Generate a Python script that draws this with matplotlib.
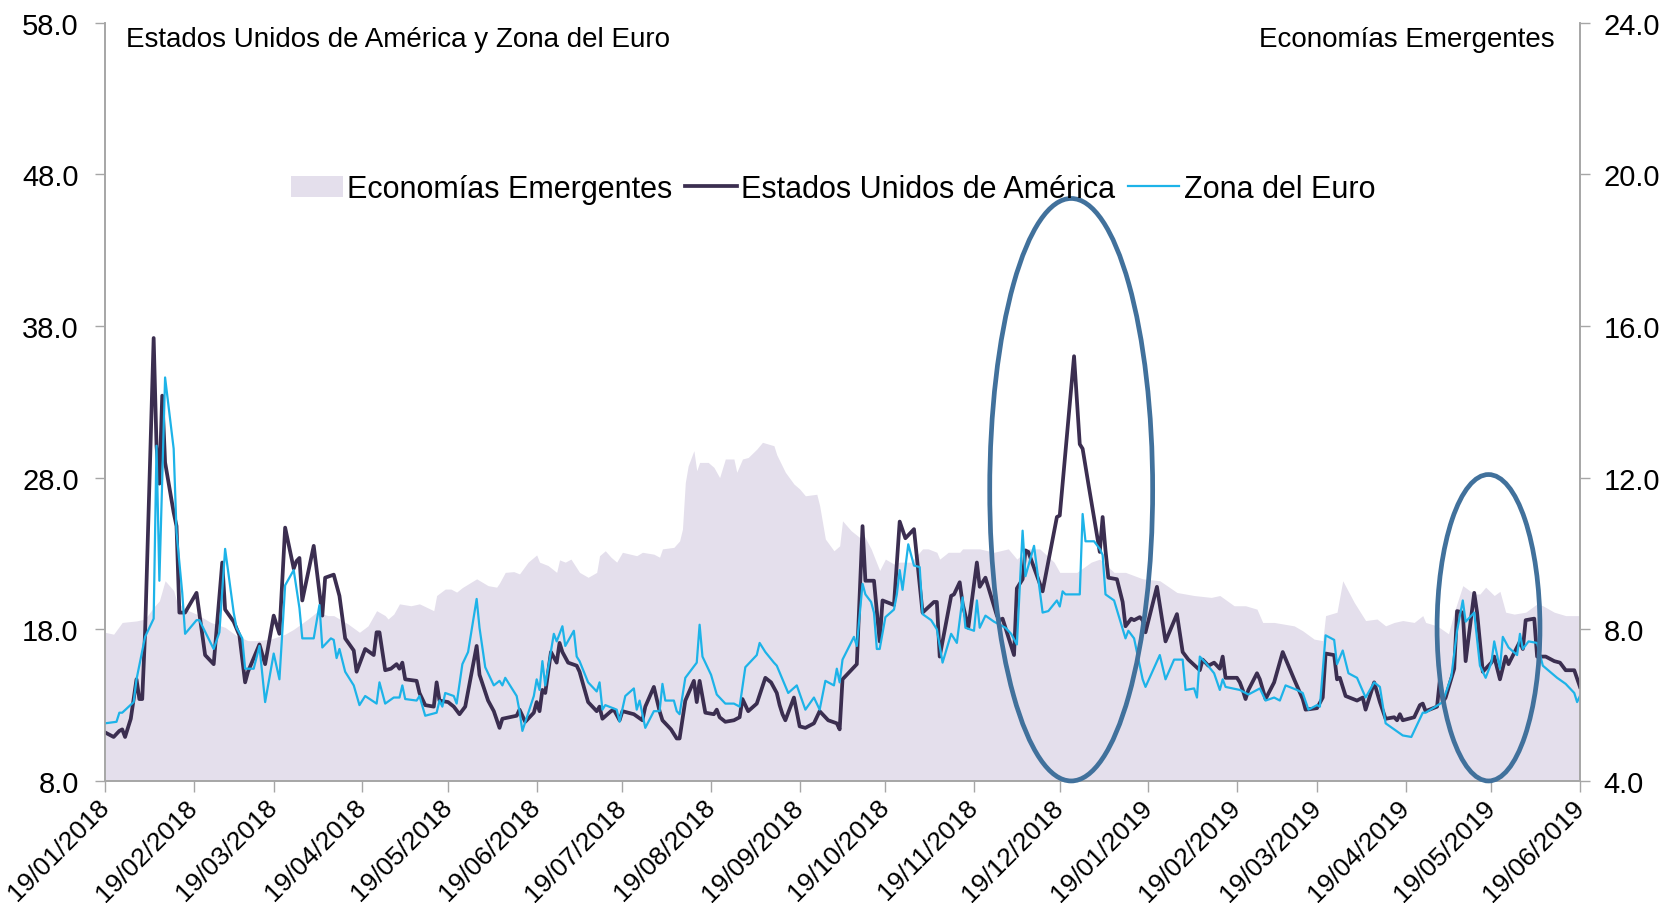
import numpy as np
import pandas as pd
import matplotlib
matplotlib.use('Agg')
import matplotlib.pyplot as plt
import matplotlib.dates as mdates
from matplotlib.patches import Ellipse

plt.rcParams['font.family'] = ['Liberation Sans', 'DejaVu Sans']

start = pd.Timestamp('2018-01-19')

# (days since 19/01/2018, value)
usa = [(0, 11.2), (3, 10.9), (5, 11.3), (6, 11.4), (7, 10.9), (9, 12.1), (11, 14.7), (12, 13.4),
       (13, 13.4), (14, 17.8), (17, 37.2), (18, 30.1), (19, 27.6), (20, 33.4), (21, 29.0), (24, 25.7),
       (25, 24.8), (26, 19.1), (28, 19.1), (32, 20.4), (35, 16.3), (38, 15.7), (41, 22.4), (42, 19.3),
       (45, 18.5), (47, 17.6), (49, 14.5), (50, 15.2), (54, 17.0), (56, 15.7), (59, 18.9), (61, 17.7),
       (63, 24.7), (66, 22.0), (67, 22.5), (68, 22.7), (69, 19.9), (73, 23.5), (76, 18.9), (77, 21.4),
       (80, 21.6), (82, 20.2), (84, 17.4), (87, 16.6), (88, 15.2), (91, 16.7), (94, 16.3), (95, 17.8),
       (96, 17.8), (98, 15.3), (100, 15.4), (102, 15.7), (103, 15.4), (104, 15.8), (105, 14.7),
       (109, 14.6), (110, 13.8), (112, 13.0), (115, 12.9), (116, 14.5), (117, 13.3), (120, 13.2),
       (122, 12.9), (124, 12.4), (126, 12.9), (130, 16.9), (131, 15.0), (134, 13.3), (136, 12.6),
       (138, 11.5), (139, 12.1), (144, 12.3), (145, 12.7), (147, 11.9), (150, 12.5), (151, 13.2),
       (152, 12.6), (153, 14.0), (154, 13.8), (156, 16.5), (158, 15.8), (159, 17.1), (160, 16.5),
       (162, 15.8), (165, 15.6), (166, 15.2), (169, 13.2), (172, 12.6), (173, 12.9), (174, 12.1),
       (177, 12.6), (178, 12.7), (180, 12.0), (181, 12.6), (185, 12.4), (188, 12.0), (189, 12.9),
       (192, 14.2), (194, 12.6), (195, 12.0), (198, 11.4), (200, 10.8), (201, 10.8), (203, 13.3),
       (206, 14.6), (207, 13.2), (208, 14.6), (210, 12.5), (213, 12.4), (214, 12.7), (215, 12.2),
       (217, 11.9), (220, 12.0), (222, 12.2), (223, 13.4), (225, 12.6), (228, 13.1), (231, 14.8),
       (233, 14.5), (235, 13.8), (236, 13.0), (237, 12.4), (238, 12.0), (241, 13.5), (243, 11.6),
       (245, 11.5), (248, 11.8), (250, 12.6), (253, 12.0), (256, 11.8), (257, 11.4), (258, 14.7),
       (261, 15.3), (263, 15.7), (265, 24.8), (266, 21.2), (269, 21.2), (271, 17.2), (272, 19.9),
       (276, 19.6), (278, 25.1), (280, 24.0), (283, 24.6), (286, 19.1), (290, 19.8), (291, 19.8),
       (292, 16.2), (296, 20.2), (297, 20.3), (299, 21.1), (300, 19.7), (302, 18.1), (305, 22.4),
       (306, 20.8), (308, 21.4), (312, 18.9), (313, 18.6), (314, 18.7), (318, 16.3), (319, 20.7),
       (321, 21.3), (322, 23.2), (323, 23.1), (328, 20.5), (333, 25.4), (334, 25.5), (339, 36.0),
       (341, 30.2), (342, 29.9), (344, 27.6), (348, 23.1), (349, 25.4), (350, 23.2), (351, 21.4),
       (354, 21.3), (356, 19.8), (357, 18.2), (359, 18.7), (360, 18.6), (362, 18.8), (363, 18.6),
       (364, 17.8), (368, 20.8), (371, 17.2), (375, 19.0), (377, 16.5), (379, 16.0), (383, 15.3),
       (384, 16.0), (386, 15.6), (388, 15.8), (390, 15.4), (391, 16.2), (392, 14.8), (396, 14.8),
       (397, 14.5), (398, 14.0), (399, 13.4), (400, 14.0), (403, 15.1), (404, 14.7), (406, 13.4),
       (409, 14.5), (412, 16.5), (416, 14.7), (419, 13.4), (420, 12.7), (424, 12.8), (426, 13.5),
       (427, 16.4), (430, 16.3), (431, 14.7), (432, 14.8), (434, 13.6), (438, 13.3), (440, 13.5),
       (441, 12.7), (444, 14.5), (446, 13.2), (448, 12.1), (451, 12.2), (452, 12.0), (453, 12.4),
       (454, 12.0), (458, 12.2), (460, 13.0), (461, 13.1), (462, 12.6), (466, 12.9), (467, 14.7),
       (468, 13.2), (469, 13.5), (472, 15.4), (473, 19.2), (475, 19.1), (476, 15.9), (479, 20.4),
       (480, 19.1), (482, 15.2), (485, 15.8), (486, 16.2), (488, 14.7), (490, 16.2), (491, 15.7),
       (495, 17.2), (496, 16.7), (497, 18.6), (500, 18.7), (501, 16.2), (504, 16.2), (507, 15.9),
       (509, 15.8), (511, 15.3), (514, 15.3), (516, 14.2)]

euro = [(0, 11.8), (4, 11.9), (5, 12.5), (6, 12.5), (10, 13.2), (11, 14.7), (14, 17.5), (17, 18.7),
        (18, 30.1), (19, 21.2), (21, 34.6), (24, 29.9), (25, 24.4), (27, 20.4), (28, 17.7), (32, 18.6),
        (33, 18.6), (38, 16.7), (40, 17.8), (42, 23.3), (45, 19.1), (46, 18.1), (48, 17.4), (49, 15.4),
        (52, 15.4), (54, 16.9), (56, 13.2), (59, 16.4), (61, 14.7), (63, 20.9), (66, 21.9), (68, 19.4),
        (69, 17.4), (73, 17.4), (75, 19.6), (76, 16.8), (79, 17.4), (80, 17.3), (81, 16.1), (82, 16.7),
        (84, 15.2), (87, 14.3), (89, 13.0), (91, 13.6), (95, 13.1), (96, 14.5), (98, 13.1), (101, 13.5),
        (103, 13.5), (104, 14.3), (105, 13.4), (109, 13.3), (110, 13.6), (112, 12.3), (116, 12.5),
        (117, 13.3), (118, 12.9), (119, 13.8), (122, 13.6), (123, 13.1), (125, 15.7), (127, 16.5),
        (130, 20.0), (131, 18.1), (133, 15.5), (136, 14.3), (138, 14.6), (139, 14.3), (140, 14.8),
        (144, 13.6), (145, 12.6), (146, 11.3), (150, 13.6), (151, 14.7), (152, 14.0), (153, 15.9),
        (154, 14.3), (157, 17.7), (158, 17.2), (160, 18.2), (161, 16.9), (164, 17.9), (165, 16.2),
        (166, 15.9), (169, 14.5), (172, 13.9), (173, 14.5), (174, 12.7), (175, 13.0), (179, 12.7),
        (180, 11.9), (182, 13.6), (185, 14.1), (186, 12.7), (187, 13.3), (189, 11.5), (192, 12.6),
        (194, 12.6), (195, 14.4), (196, 13.3), (199, 13.3), (200, 12.6), (201, 12.4), (203, 14.8),
        (207, 15.8), (208, 18.3), (209, 16.2), (212, 15.0), (214, 13.7), (217, 13.1), (220, 13.1),
        (222, 12.9), (224, 15.5), (228, 16.3), (229, 17.1), (231, 16.5), (234, 15.8), (235, 15.6),
        (239, 13.8), (242, 14.3), (245, 12.7), (248, 13.5), (250, 12.7), (252, 14.6), (255, 14.3),
        (256, 15.4), (257, 14.5), (258, 16.0), (262, 17.5), (263, 16.9), (265, 21.0), (266, 20.3),
        (268, 19.8), (269, 19.1), (270, 16.7), (271, 16.7), (273, 18.8), (276, 19.3), (277, 20.3),
        (278, 21.9), (279, 20.6), (281, 23.6), (283, 22.2), (285, 22.1), (286, 19.0), (289, 18.6),
        (291, 18.0), (293, 15.8), (296, 17.7), (298, 17.1), (300, 20.1), (301, 18.1), (304, 17.9),
        (305, 19.9), (306, 18.1), (308, 18.9), (311, 18.5), (315, 18.1), (317, 17.7), (319, 17.0),
        (321, 24.5), (322, 21.5), (325, 23.5), (328, 19.1), (330, 19.2), (333, 19.9), (334, 19.5),
        (335, 20.5), (336, 20.3), (341, 20.3), (342, 25.6), (343, 23.8), (346, 23.8), (348, 23.3),
        (349, 22.9), (350, 20.3), (353, 19.9), (357, 17.4), (358, 17.9), (360, 17.4), (363, 14.7),
        (364, 14.2), (369, 16.3), (371, 14.7), (374, 16.0), (377, 16.0), (378, 14.0), (381, 14.1),
        (382, 13.5), (383, 16.2), (385, 15.8), (388, 15.1), (390, 14.0), (391, 14.7), (392, 14.2),
        (397, 14.0), (400, 13.7), (404, 14.1), (406, 13.3), (409, 13.5), (411, 13.3), (413, 14.3),
        (417, 14.0), (419, 13.8), (421, 12.7), (424, 13.0), (425, 12.9), (427, 17.6), (430, 17.3),
        (431, 15.7), (433, 16.6), (435, 15.1), (438, 14.8), (441, 13.5), (444, 14.5), (446, 14.2),
        (448, 11.8), (454, 11.0), (457, 10.9), (461, 12.5), (462, 12.5), (468, 13.2), (471, 14.9),
        (473, 17.9), (475, 19.9), (476, 18.5), (479, 19.1), (481, 15.6), (483, 14.8), (485, 15.8),
        (486, 17.2), (488, 15.4), (489, 17.5), (491, 16.8), (494, 16.3), (495, 17.7), (496, 16.7),
        (498, 17.2), (501, 17.1), (503, 15.6), (508, 14.8), (511, 14.4), (514, 13.8), (515, 13.2),
        (516, 13.6)]

emerg = [(0, 7.92), (3, 7.87), (6, 8.18), (11, 8.22), (14, 8.27), (17, 8.58), (19, 8.75), (21, 9.28),
         (24, 9.02), (25, 8.75), (28, 8.53), (32, 8.40), (37, 8.18), (42, 8.05), (46, 7.83), (50, 7.70),
         (53, 7.70), (58, 7.74), (63, 7.87), (66, 8.00), (71, 8.27), (74, 8.45), (78, 8.36), (80, 8.36),
         (85, 8.14), (89, 7.92), (92, 8.09), (95, 8.49), (98, 8.36), (99, 8.27), (101, 8.40), (103, 8.67),
         (107, 8.62), (110, 8.67), (115, 8.49), (116, 8.89), (119, 9.06), (121, 9.06), (123, 8.98),
         (125, 9.10), (130, 9.33), (134, 9.15), (137, 9.11), (138, 9.22), (140, 9.50), (143, 9.52),
         (145, 9.46), (148, 9.77), (151, 9.96), (152, 9.77), (155, 9.68), (158, 9.50), (159, 9.83),
         (161, 9.77), (163, 9.85), (166, 9.50), (169, 9.37), (172, 9.50), (173, 9.94), (175, 10.07),
         (177, 9.90), (179, 9.77), (181, 10.03), (186, 9.94), (188, 10.03), (192, 9.98), (194, 9.90),
         (195, 10.12), (199, 10.16), (201, 10.33), (202, 10.64), (203, 11.87), (204, 12.31), (206, 12.71),
         (207, 12.18), (208, 12.40), (209, 12.40), (211, 12.40), (213, 12.27), (215, 12.00), (217, 12.49),
         (220, 12.49), (221, 12.14), (223, 12.49), (225, 12.53), (228, 12.75), (230, 12.93), (234, 12.84),
         (235, 12.60), (238, 12.14), (241, 11.83), (243, 11.70), (245, 11.52), (249, 11.56), (250, 11.26),
         (252, 10.38), (255, 10.07), (257, 10.20), (258, 10.86), (261, 10.60), (264, 10.42), (265, 10.55),
         (268, 10.12), (271, 9.55), (273, 9.85), (276, 9.72), (278, 9.77), (282, 9.77), (286, 10.12),
         (288, 10.12), (291, 10.03), (292, 9.85), (295, 10.03), (299, 10.03), (300, 10.12), (306, 10.12),
         (311, 10.03), (316, 10.12), (319, 9.85), (323, 10.12), (327, 10.12), (332, 9.77), (334, 9.50),
         (340, 9.50), (345, 9.77), (348, 9.85), (353, 9.50), (357, 9.50), (363, 9.33), (369, 9.28),
         (375, 8.97), (381, 8.89), (387, 8.84), (390, 8.89), (395, 8.62), (399, 8.62), (403, 8.53),
         (405, 8.18), (409, 8.18), (416, 8.09), (419, 7.96), (423, 7.74), (426, 7.70), (427, 8.36),
         (431, 8.45), (433, 9.28), (437, 8.71), (441, 8.23), (445, 8.27), (448, 8.09), (451, 8.18),
         (454, 8.23), (458, 8.18), (461, 8.36), (462, 8.18), (466, 8.09), (470, 7.88), (472, 8.45),
         (475, 9.15), (479, 8.93), (481, 8.93), (483, 9.11), (486, 8.89), (488, 9.00), (490, 8.45),
         (493, 8.40), (497, 8.45), (501, 8.67), (503, 8.62), (507, 8.45), (511, 8.36), (516, 8.36)]

# highlighted periods: (centre date, centre value, width in days, height)
circled = [('2018-12-23', 27.2, 57, 38.4), ('2019-05-18', 18.1, 36, 20.2)]

left_ticks = [8, 18, 28, 38, 48, 58]
right_ticks = [4, 8, 12, 16, 20, 24]
month_ticks = pd.date_range('2018-01-19', '2019-06-19', freq=pd.DateOffset(months=1))


def split(pairs):
    d, v = zip(*pairs)
    return start + pd.to_timedelta(list(d), unit='D'), np.array(v)


usa_x, usa_y = split(usa)
euro_x, euro_y = split(euro)
em_x, em_y = split(emerg)

grey = '#A6A6A6'
fig = plt.figure(figsize=(16.73, 9.04), dpi=100)
ax = fig.add_axes([0.0628, 0.135, 0.8816, 0.839])
ax2 = ax.twinx()
ax.set_zorder(ax2.get_zorder() + 1)
ax.patch.set_visible(False)

em_fill = ax2.fill_between(em_x, 4, em_y, color='#E4DFEC', lw=0, label='Economías Emergentes')
l_usa, = ax.plot(usa_x, usa_y, color='#3B2E50', lw=2.7, label='Estados Unidos de América')
l_eur, = ax.plot(euro_x, euro_y, color='#1DB3E8', lw=1.6, label='Zona del Euro')

for c, cy, w, h in circled:
    ax.add_patch(Ellipse((mdates.date2num(pd.Timestamp(c)), cy), w, h, fill=False,
                         ec='#41719C', lw=3.4, clip_on=False, zorder=5))

ax.set_xlim(month_ticks[0], month_ticks[-1])
ax.set_ylim(8, 58)
ax2.set_ylim(4, 24)
ax.set_yticks(left_ticks)
ax2.set_yticks(right_ticks)
ax.yaxis.set_major_formatter(plt.FormatStrFormatter('%.1f'))
ax2.yaxis.set_major_formatter(plt.FormatStrFormatter('%.1f'))
ax.set_xticks(month_ticks)
ax.xaxis.set_major_formatter(mdates.DateFormatter('%d/%m/%Y'))
plt.setp(ax.get_xticklabels(), rotation=45, ha='right', va='center', rotation_mode='anchor')

ax.tick_params(axis='y', labelsize=21, length=7, width=1, color=grey, pad=12)
ax2.tick_params(axis='y', labelsize=21, length=7, width=1, color=grey, pad=10)
ax.tick_params(axis='x', labelsize=19, length=8, width=1, color=grey, pad=8)

for a in (ax, ax2):
    a.spines['top'].set_visible(False)
    for s in ('left', 'right', 'bottom'):
        a.spines[s].set_color(grey)
        a.spines[s].set_linewidth(1.2)

ax.text(0.014, 0.969, 'Estados Unidos de América y Zona del Euro', transform=ax.transAxes,
        fontsize=20, ha='left', va='baseline')
ax.text(0.983, 0.969, 'Economías Emergentes', transform=ax.transAxes,
        fontsize=20, ha='right', va='baseline')

ax.legend([em_fill, l_usa, l_eur], [em_fill.get_label(), l_usa.get_label(), l_eur.get_label()],
          loc='center', bbox_to_anchor=(0.4936, 0.7805), ncol=3, frameon=False, fontsize=22,
          handlelength=1.7, handletextpad=0.15, columnspacing=0.4)

fig.savefig('out.png', dpi=100, facecolor='white')
